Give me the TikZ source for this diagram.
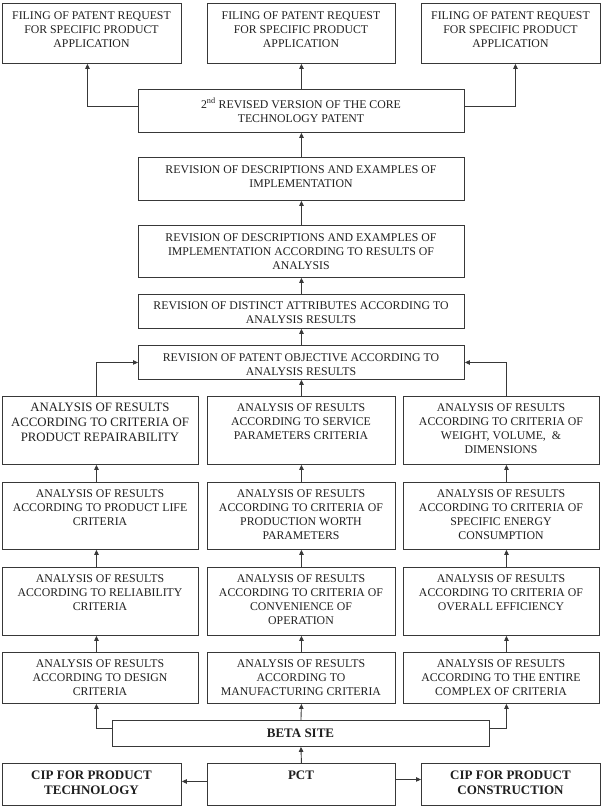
\documentclass[tikz,border=0pt]{standalone}
\usepackage{fontspec}
\setmainfont{Liberation Serif}
\usetikzlibrary{arrows.meta}
\tikzset{
  boxst/.style={draw=black!78, line width=0.9pt, inner sep=0pt, rectangle},
  txtst/.style={font=\fontsize{11.8}{14}\selectfont, align=center, inner sep=0pt, text=black!88},
  bigtxt/.style={font=\fontsize{12.8}{15}\selectfont},
  boldtxt/.style={font=\bfseries\fontsize{13}{15}\selectfont},
  arr/.style={draw=black!78, line width=0.9pt, -{Triangle[length=5pt,width=4.5pt]}}
}
\newcommand\mybox[8][]{%
  \node[boxst, minimum width={(#5-#3)*1pt}, minimum height={(#6-#4)*1pt}, anchor=north west] (#2) at (#3,#4) {};
  \node[txtst, #1, anchor=north] (#2t) at ({(#3+#5)/2},{#4+#7}) {#8};
}
\begin{document}
\begin{tikzpicture}[x=1pt, y=-1pt]
\useasboundingbox (0,0) rectangle (602,807);
% top row
\mybox{fa}{2}{3}{181}{63}{8}{FILING OF PATENT REQUEST\\FOR SPECIFIC PRODUCT\\APPLICATION}
\mybox{fb}{207}{3}{395}{63}{8}{FILING OF PATENT REQUEST\\FOR SPECIFIC PRODUCT\\APPLICATION}
\mybox{fc}{421}{3}{600}{63}{8}{FILING OF PATENT REQUEST\\FOR SPECIFIC PRODUCT\\APPLICATION}
% revision chain
\mybox{rev}{138}{89}{464}{132}{9}{2\textsuperscript{nd} REVISED VERSION OF THE CORE\\TECHNOLOGY PATENT}
\mybox{ra}{138}{157}{464}{200}{8}{REVISION OF DESCRIPTIONS AND EXAMPLES OF\\IMPLEMENTATION}
\mybox{rb}{138}{225}{464}{277}{8}{REVISION OF DESCRIPTIONS AND EXAMPLES OF\\IMPLEMENTATION ACCORDING TO RESULTS OF\\ANALYSIS}
\mybox{rc}{138}{294}{464}{328}{7}{REVISION OF DISTINCT ATTRIBUTES ACCORDING TO\\ANALYSIS RESULTS}
\mybox{rd}{138}{345}{464}{379}{8}{REVISION OF PATENT OBJECTIVE ACCORDING TO\\ANALYSIS RESULTS}
% row 1
\mybox[bigtxt]{la}{2}{396}{198}{464}{7}{ANALYSIS OF RESULTS\\ACCORDING TO CRITERIA OF\\PRODUCT REPAIRABILITY}
\mybox{ma}{207}{396}{395}{464}{7}{ANALYSIS OF RESULTS\\ACCORDING TO SERVICE\\PARAMETERS CRITERIA}
\mybox{qa}{403}{396}{599}{464}{7}{ANALYSIS OF RESULTS\\ACCORDING TO CRITERIA OF\\WEIGHT, VOLUME,\ \ \&\\DIMENSIONS}
% row 2
\mybox{lb}{2}{482}{198}{549}{7}{ANALYSIS OF RESULTS\\ACCORDING TO PRODUCT LIFE\\CRITERIA}
\mybox{mb}{207}{482}{395}{549}{7}{ANALYSIS OF RESULTS\\ACCORDING TO CRITERIA OF\\PRODUCTION WORTH\\PARAMETERS}
\mybox{qb}{403}{482}{599}{549}{7}{ANALYSIS OF RESULTS\\ACCORDING TO CRITERIA OF\\SPECIFIC ENERGY\\CONSUMPTION}
% row 3
\mybox{lc}{2}{567}{198}{635}{7}{ANALYSIS OF RESULTS\\ACCORDING TO RELIABILITY\\CRITERIA}
\mybox{mc}{207}{567}{395}{635}{7}{ANALYSIS OF RESULTS\\ACCORDING TO CRITERIA OF\\CONVENIENCE OF\\OPERATION}
\mybox{qc}{403}{567}{599}{635}{7}{ANALYSIS OF RESULTS\\ACCORDING TO CRITERIA OF\\OVERALL EFFICIENCY}
% row 4
\mybox{ld}{2}{652}{198}{703}{7}{ANALYSIS OF RESULTS\\ACCORDING TO DESIGN\\CRITERIA}
\mybox{md}{207}{652}{395}{703}{7}{ANALYSIS OF RESULTS\\ACCORDING TO\\MANUFACTURING CRITERIA}
\mybox{qd}{403}{652}{599}{703}{7}{ANALYSIS OF RESULTS\\ACCORDING TO THE ENTIRE\\COMPLEX OF CRITERIA}
% beta
\mybox[boldtxt]{beta}{112}{720}{489}{746}{8.5}{BETA SITE}
% bottom
\mybox[boldtxt]{cipt}{2}{763}{181}{805}{7.5}{CIP FOR PRODUCT\\TECHNOLOGY}
\mybox[boldtxt]{pct}{207}{763}{395}{805}{7.5}{PCT}
\mybox[boldtxt]{cipc}{421}{763}{600}{805}{7.5}{CIP FOR PRODUCT\\CONSTRUCTION}
% connectors top
\draw[arr] ([yshift=4.5pt]rev.west) -| ([xshift=-4.5pt]fa.south);
\draw[arr] (rev.north) -- (fb.south);
\draw[arr] ([yshift=4.5pt]rev.east) -| ([xshift=4.5pt]fc.south);
\draw[arr] (ra.north) -- (rev.south);
\draw[arr] (rb.north) -- (ra.south);
\draw[arr] (rc.north) -- (rb.south);
\draw[arr] (rd.north) -- (rc.south);
% row1 to objective
\draw[arr] ([xshift=-4pt]la.north) |- (rd.west);
\draw[arr] (ma.north) -- (rd.south);
\draw[arr] ([xshift=5pt]qa.north) |- (rd.east);
% columns
\draw[arr] ([xshift=-4pt]lb.north) -- ([xshift=-4pt]la.south);
\draw[arr] ([xshift=-4pt]lc.north) -- ([xshift=-4pt]lb.south);
\draw[arr] ([xshift=-4pt]ld.north) -- ([xshift=-4pt]lc.south);
\draw[arr] (mb.north) -- (ma.south);
\draw[arr] (mc.north) -- (mb.south);
\draw[arr] (md.north) -- (mc.south);
\draw[arr] ([xshift=5pt]qb.north) -- ([xshift=5pt]qa.south);
\draw[arr] ([xshift=5pt]qc.north) -- ([xshift=5pt]qb.south);
\draw[arr] ([xshift=5pt]qd.north) -- ([xshift=5pt]qc.south);
% beta to row 4
\draw[arr] ([yshift=5pt]beta.west) -| ([xshift=-4pt]ld.south);
\draw[arr] (beta.north) -- (md.south);
\draw[arr] ([yshift=5pt]beta.east) -| ([xshift=5pt]qd.south);
% bottom
\draw[arr] (pct.north) -- (beta.south);
\draw[arr] ([yshift=3pt]pct.west) -- ([yshift=3pt]cipt.east);
\draw[arr] ([yshift=5pt]pct.east) -- ([yshift=5pt]cipc.west);
\end{tikzpicture}
\end{document}
